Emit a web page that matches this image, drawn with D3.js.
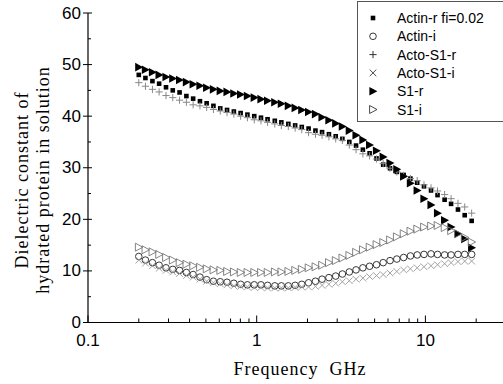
<!DOCTYPE html>
<html><head><meta charset="utf-8">
<script src="https://cdn.jsdelivr.net/npm/d3@7"></script>
<style>body{margin:0;background:#fff}svg{display:block}</style>
</head><body>
<svg id="c" width="503" height="384"></svg>
<script>
const frequencies = [0.200,0.219,0.241,0.264,0.290,0.318,0.349,0.383,0.420,0.461,0.505,0.554,0.608,0.667,0.732,0.803,0.881,0.967,1.06,1.16,1.28,1.40,1.54,1.69,1.85,2.03,2.23,2.44,2.68,2.94,3.22,3.54,3.88,4.26,4.67,5.13,5.62,6.17,6.77,7.43,8.15,8.94,9.81,10.8,11.8,13.0,14.2,15.6,17.1,18.8];
const actinR = [48.0,47.4,46.8,46.3,45.6,45.0,44.6,43.9,43.4,42.9,42.5,42.0,41.5,41.2,40.9,40.6,40.3,40.0,39.7,39.4,39.1,38.8,38.5,38.2,37.9,37.6,37.2,36.9,36.5,36.1,35.6,35.0,34.3,33.5,32.8,31.8,30.6,29.9,29.2,28.6,27.9,27.1,26.4,25.6,24.7,23.8,23.0,21.9,20.8,19.7];
const actinI = [12.8,12.1,11.6,11.1,10.6,10.3,10.1,9.7,9.3,8.8,8.3,8.0,7.9,7.8,7.6,7.4,7.3,7.3,7.3,7.2,7.1,7.1,7.1,7.2,7.4,7.7,8.0,8.4,8.7,9.0,9.4,9.8,10.2,10.6,10.9,11.2,11.6,12.0,12.3,12.6,12.9,13.1,13.2,13.3,13.2,13.1,13.1,13.2,13.2,13.2];
const actoS1R = [46.5,45.8,45.2,44.7,44.0,43.6,43.1,42.7,42.2,42.0,41.7,41.3,41.0,40.7,40.4,40.0,39.7,39.3,39.1,38.8,38.5,38.2,38.0,37.7,37.4,36.8,36.5,36.3,36.0,35.6,35.3,34.4,33.5,32.7,32.3,31.7,30.8,29.9,29.2,28.5,27.9,27.5,26.7,26.1,25.5,24.8,24.0,23.1,22.4,21.2];
const actoS1I = [12.1,11.5,11.0,10.5,10.1,9.8,9.5,9.1,8.8,8.4,8.0,7.7,7.5,7.3,7.1,7.0,6.9,6.8,6.8,6.7,6.7,6.7,6.7,6.8,6.9,6.9,7.0,7.2,7.4,7.6,7.9,8.1,8.4,8.6,8.9,9.1,9.3,9.6,9.9,10.2,10.4,10.6,10.8,11.0,11.2,11.4,11.6,11.8,11.9,11.9];
const s1R = [49.5,49.0,48.5,48.0,47.6,47.3,47.0,46.6,46.2,45.9,45.5,45.2,44.9,44.7,44.4,44.2,43.9,43.6,43.3,43.0,42.7,42.4,42.0,41.6,41.2,40.8,40.4,39.8,39.2,38.6,38.0,37.2,36.3,35.4,34.4,33.3,32.1,30.9,29.7,28.3,27.0,25.6,24.0,22.8,21.2,19.8,18.5,17.2,16.2,14.5];
const s1I = [14.6,14.1,13.7,13.2,12.6,12.1,11.6,11.3,11.0,10.7,10.4,10.2,10.1,9.9,9.8,9.7,9.7,9.7,9.7,9.7,9.8,9.8,9.9,10.1,10.3,10.6,10.8,11.1,11.6,12.0,12.5,13.0,13.6,14.1,14.6,15.1,15.5,16.0,16.6,17.2,17.7,18.1,18.5,18.7,18.8,18.4,17.8,17.2,16.5,15.6];

const seriesNames = ["Actin-r fi=0.02","Actin-i","Acto-S1-r","Acto-S1-i","S1-r","S1-i"];
const xTickValues = [0.1,1,10];
const xTickLabels = ["0.1","1","10"];
const yTickValues = [0,10,20,30,40,50,60];
const xTitle = "Frequency  GHz";
const yTitleLines = ["Dielectric constant of","hydrated protein in solution"];

const series = [
  {name: seriesNames[0], values: actinR, shape: "square", color: "#000"},
  {name: seriesNames[1], values: actinI, shape: "circle", color: "#222"},
  {name: seriesNames[2], values: actoS1R, shape: "plus", color: "#888"},
  {name: seriesNames[3], values: actoS1I, shape: "cross", color: "#999"},
  {name: seriesNames[4], values: s1R, shape: "triFill", color: "#000"},
  {name: seriesNames[5], values: s1I, shape: "triOpen", color: "#777"}
];

const svg = d3.select("#c");
const x0 = 88, decade = 168.7;
const x = d3.scaleLog().domain([0.1, 30]).range([x0, x0 + decade*Math.log10(300)]);
const y = d3.scaleLinear().domain([0, 60]).range([322.5, 13]);

function drawMarker(g, shape, cx, cy, color) {
  if (shape === "square") {
    g.append("rect").attr("x", cx-2.3).attr("y", cy-2.3).attr("width", 4.6).attr("height", 4.6).attr("fill", color);
  } else if (shape === "circle") {
    g.append("circle").attr("cx", cx).attr("cy", cy).attr("r", 3.3).attr("fill", "none").attr("stroke", color).attr("stroke-width", 0.9);
  } else if (shape === "plus") {
    g.append("path").attr("d", `M${cx-3.6},${cy}H${cx+3.6}M${cx},${cy-3.6}V${cy+3.6}`).attr("stroke", color).attr("stroke-width", 1).attr("fill", "none");
  } else if (shape === "cross") {
    g.append("path").attr("d", `M${cx-3.3},${cy-3.3}L${cx+3.3},${cy+3.3}M${cx-3.3},${cy+3.3}L${cx+3.3},${cy-3.3}`).attr("stroke", color).attr("stroke-width", 0.9).attr("fill", "none");
  } else if (shape === "triFill") {
    g.append("path").attr("d", `M${cx-3.6},${cy-4.3}L${cx+4.4},${cy}L${cx-3.6},${cy+4.3}Z`).attr("fill", color);
  } else if (shape === "triOpen") {
    g.append("path").attr("d", `M${cx-3.4},${cy-4}L${cx+4},${cy}L${cx-3.4},${cy+4}Z`).attr("fill", "none").attr("stroke", color).attr("stroke-width", 0.9);
  }
}

// data
const plot = svg.append("g");
series.forEach(s => {
  const g = plot.append("g");
  s.values.forEach((v, i) => drawMarker(g, s.shape, x(frequencies[i]), y(v), s.color));
});

// axes
const axisColor = "#000";
// y axis
svg.append("line").attr("x1", x0).attr("x2", x0).attr("y1", y(60)).attr("y2", y(0)).attr("stroke", axisColor).attr("stroke-width", 1.2);
d3.range(0, 61, 5).forEach(v => {
  const major = v % 10 === 0;
  svg.append("line").attr("x1", major ? x0-5 : x0).attr("x2", x0+ (major?4:3)).attr("y1", y(v)).attr("y2", y(v)).attr("stroke", axisColor).attr("stroke-width", 1);
});
svg.selectAll("text.ytick").data(yTickValues).join("text").attr("class","ytick")
  .attr("x", x0-7).attr("y", d => y(d)).attr("text-anchor","end").attr("dominant-baseline","central")
  .attr("font-family","Liberation Sans, Arial, sans-serif").attr("font-size",17).text(d => d);

// x axis
svg.append("line").attr("x1", x0).attr("x2", 503).attr("y1", y(0)).attr("y2", y(0)).attr("stroke", axisColor).attr("stroke-width", 1.2);
const minorX = [];
[0.1,1,10].forEach(b => { for (let m=2;m<=9;m++) minorX.push(b*m); });
minorX.filter(v => v <= 30).forEach(v => {
  svg.append("line").attr("x1", x(v)).attr("x2", x(v)).attr("y1", y(0)).attr("y2", y(0)-4).attr("stroke", axisColor).attr("stroke-width", 1);
});
xTickValues.forEach(v => {
  svg.append("line").attr("x1", x(v)).attr("x2", x(v)).attr("y1", y(0)).attr("y2", y(0)-7).attr("stroke", axisColor).attr("stroke-width", 1);
});
svg.selectAll("text.xtick").data(xTickValues).join("text").attr("class","xtick")
  .attr("x", d => x(d)).attr("y", 346).attr("text-anchor","middle")
  .attr("font-family","Liberation Sans, Arial, sans-serif").attr("font-size",17).text((d,i) => xTickLabels[i]);

// titles
svg.append("text").attr("x", 300).attr("y", 375).attr("text-anchor","middle")
  .attr("font-family","Liberation Serif, Times New Roman, serif").attr("font-size",18).attr("letter-spacing",1)
  .attr("xml:space","preserve").style("white-space","pre").text(xTitle);
yTitleLines.forEach((t, i) => {
  svg.append("text").attr("transform", `translate(${28 + i*21},180) rotate(-90)`).attr("text-anchor","middle")
    .attr("font-family","Liberation Serif, Times New Roman, serif").attr("font-size",18).attr("letter-spacing",1)
    .text(t);
});

// legend
svg.append("rect").attr("x", 357.5).attr("y", 1.5).attr("width", 150).attr("height", 120)
  .attr("fill", "#fff").attr("stroke", "#555").attr("stroke-width", 1);
series.forEach((s, i) => {
  const ly = 18 + i*18.3;
  const g = svg.append("g");
  drawMarker(g, s.shape, 373, ly, s.shape === "plus" || s.shape === "cross" || s.shape === "triOpen" ? "#333" : s.color);
  svg.append("text").attr("x", 397).attr("y", ly).attr("dominant-baseline","central")
    .attr("font-family","Liberation Sans, Arial, sans-serif").attr("font-size",14).text(s.name);
});
</script>
</body></html>
